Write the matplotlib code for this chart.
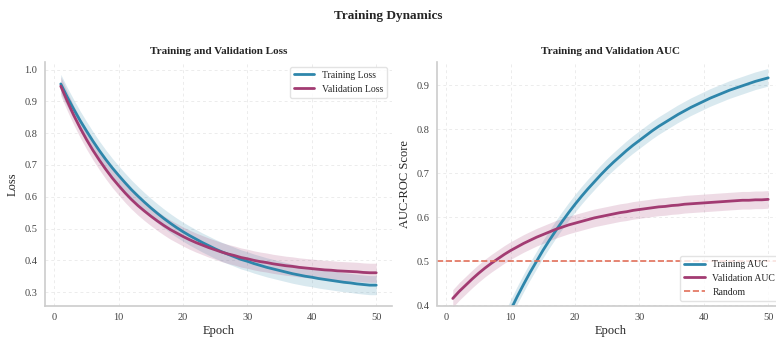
import numpy as np
import matplotlib
matplotlib.use('Agg')
import matplotlib.pyplot as plt
import seaborn as sns

sns.set_style('whitegrid')
plt.rcParams['font.family'] = ['Liberation Serif', 'DejaVu Serif']

# Values, epochs 1..50
epochs = list(range(1, 51))

train_loss = [0.955, 0.914, 0.876, 0.840, 0.807, 0.775, 0.745, 0.717, 0.691, 0.667,
              0.644, 0.622, 0.602, 0.583, 0.565, 0.548, 0.532, 0.517, 0.503, 0.490,
              0.478, 0.467, 0.456, 0.446, 0.436, 0.427, 0.419, 0.411, 0.403, 0.397,
              0.390, 0.384, 0.378, 0.373, 0.368, 0.363, 0.358, 0.354, 0.350, 0.347,
              0.343, 0.340, 0.337, 0.334, 0.331, 0.329, 0.326, 0.324, 0.322, 0.322]
val_loss = [0.948, 0.901, 0.857, 0.817, 0.780, 0.746, 0.715, 0.686, 0.659, 0.635,
            0.612, 0.591, 0.572, 0.555, 0.539, 0.524, 0.510, 0.497, 0.486, 0.475,
            0.465, 0.456, 0.448, 0.440, 0.433, 0.426, 0.420, 0.415, 0.409, 0.405,
            0.400, 0.396, 0.393, 0.389, 0.386, 0.383, 0.381, 0.378, 0.376, 0.374,
            0.372, 0.370, 0.369, 0.367, 0.366, 0.365, 0.364, 0.362, 0.361, 0.361]
train_auc = [0.043, 0.090, 0.134, 0.176, 0.217, 0.255, 0.291, 0.326, 0.359, 0.390,
             0.420, 0.448, 0.475, 0.500, 0.525, 0.548, 0.570, 0.591, 0.611, 0.630,
             0.648, 0.665, 0.681, 0.697, 0.712, 0.726, 0.739, 0.752, 0.764, 0.775,
             0.786, 0.797, 0.807, 0.816, 0.825, 0.834, 0.842, 0.850, 0.857, 0.864,
             0.871, 0.877, 0.883, 0.889, 0.894, 0.899, 0.904, 0.909, 0.913, 0.917]
val_auc = [0.416, 0.432, 0.446, 0.460, 0.473, 0.485, 0.496, 0.506, 0.516, 0.525,
           0.533, 0.541, 0.548, 0.555, 0.561, 0.567, 0.573, 0.578, 0.583, 0.587,
           0.591, 0.595, 0.599, 0.602, 0.605, 0.608, 0.611, 0.613, 0.616, 0.618,
           0.620, 0.622, 0.624, 0.625, 0.627, 0.628, 0.630, 0.631, 0.632, 0.633,
           0.634, 0.635, 0.636, 0.637, 0.638, 0.639, 0.639, 0.640, 0.640, 0.641]

loss_band = 0.03
auc_band = 0.02
random_auc = 0.5

blue = '#2E86AB'
purple = '#A23B72'
red = '#E2705A'

fig = plt.figure(figsize=(7.76, 3.38), dpi=100)
ax1 = fig.add_axes([45 / 776, 1 - 305.5 / 338, 347 / 776, 243.5 / 338])
ax2 = fig.add_axes([437 / 776, 1 - 305.5 / 338, 347 / 776, 243.5 / 338])

ep = np.array(epochs)

# Loss panel
tl = np.array(train_loss)
vl = np.array(val_loss)
ax1.plot(ep, tl, color=blue, lw=2, label='Training Loss')
ax1.fill_between(ep, tl - loss_band, tl + loss_band, color=blue, alpha=0.18, lw=0)
ax1.plot(ep, vl, color=purple, lw=2, label='Validation Loss')
ax1.fill_between(ep, vl - loss_band, vl + loss_band, color=purple, alpha=0.18, lw=0)
ax1.set_ylim(0.258, 1.024)
ax1.set_title('Training and Validation Loss', fontsize=8, fontweight='bold', pad=6)
ax1.set_xlabel('Epoch', fontsize=9, labelpad=2)
ax1.set_ylabel('Loss', fontsize=9, labelpad=4)
ax1.legend(loc='upper right', fontsize=7, frameon=True, edgecolor='#dddddd',
           fancybox=True, handlelength=2.1)

# AUC panel
ta = np.array(train_auc)
va = np.array(val_auc)
ax2.plot(ep, ta, color=blue, lw=2, label='Training AUC')
ax2.fill_between(ep, ta - auc_band, ta + auc_band, color=blue, alpha=0.18, lw=0)
ax2.plot(ep, va, color=purple, lw=2, label='Validation AUC')
ax2.fill_between(ep, va - auc_band, va + auc_band, color=purple, alpha=0.18, lw=0)
ax2.axhline(random_auc, color=red, ls='--', lw=1.2, label='Random')
ax2.set_ylim(0.4, 0.953)
ax2.set_title('Training and Validation AUC', fontsize=8, fontweight='bold', pad=6)
ax2.set_xlabel('Epoch', fontsize=9, labelpad=2)
ax2.set_ylabel('AUC-ROC Score', fontsize=9, labelpad=4)
ax2.legend(loc='lower right', fontsize=7, frameon=True, edgecolor='#dddddd',
           fancybox=True, handlelength=2.1)

for ax in (ax1, ax2):
    ax.set_xlim(-1.45, 52.45)
    ax.grid(True, ls=(0, (3, 3)), color='#ececec', lw=0.7)
    ax.tick_params(labelsize=7.5, colors='#444444', pad=2)
    for s in ('top', 'right'):
        ax.spines[s].set_visible(False)
    for s in ('left', 'bottom'):
        ax.spines[s].set_color('#cccccc')
        ax.spines[s].set_linewidth(1.2)

fig.suptitle('Training Dynamics', fontsize=9.5, fontweight='bold', y=0.97)

fig.savefig('out.png', dpi=100)
